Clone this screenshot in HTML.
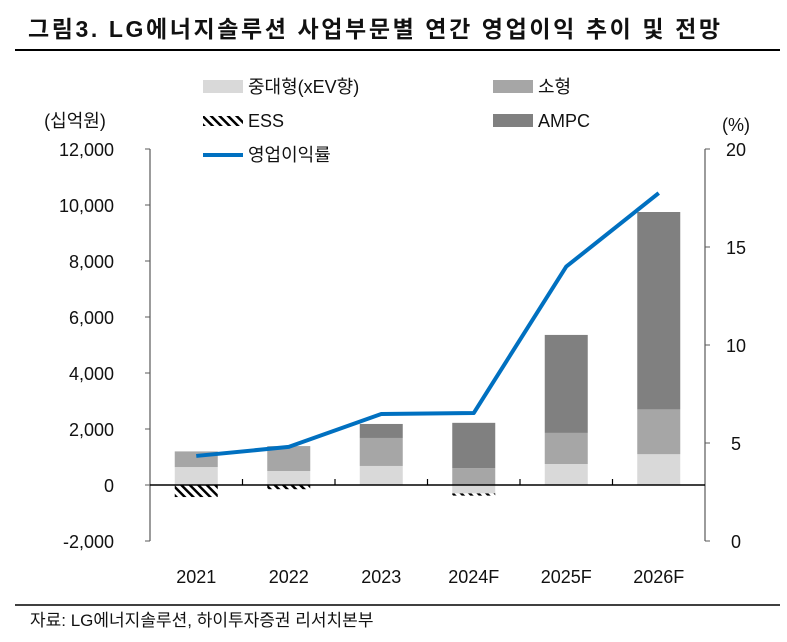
<!DOCTYPE html>
<html><head><meta charset="utf-8">
<style>
html,body{margin:0;padding:0;background:#fff;}
body{width:787px;height:637px;overflow:hidden;font-family:"Liberation Sans","Noto Sans CJK KR",sans-serif;}
svg text{font-family:"Liberation Sans","Noto Sans CJK KR",sans-serif;}
</style></head>
<body>
<svg id="chart" width="787" height="637" xmlns="http://www.w3.org/2000/svg">
<defs>
<pattern id="ess" width="6" height="6" patternUnits="userSpaceOnUse" patternTransform="rotate(-45)">
<rect width="6" height="6" fill="#fff"/><rect width="2.5" height="6" fill="#000"/>
</pattern>
</defs>
<text x="28" y="37" font-size="23" font-weight="bold" fill="#111" textLength="692">그림3. LG에너지솔루션 사업부문별 연간 영업이익 추이 및 전망</text>
<line x1="15" y1="50" x2="780" y2="50" stroke="#000" stroke-width="2"/>
<g id="legend">
<g><rect x="203" y="80" width="40" height="13" fill="#d9d9d9"/><text x="248" y="93" font-size="18" fill="#111">중대형(xEV향)</text></g>
<g><rect x="493" y="80" width="40" height="13" fill="#a6a6a6"/><text x="538" y="93" font-size="18" fill="#111">소형</text></g>
<g><rect x="203" y="116" width="40" height="10" fill="url(#ess)"/><text x="248" y="127" font-size="18" fill="#111">ESS</text></g>
<g><rect x="493" y="114" width="40" height="13" fill="#808080"/><text x="538" y="127" font-size="18" fill="#111">AMPC</text></g>
<g><line x1="203" y1="155" x2="243" y2="155" stroke="#0070c0" stroke-width="4"/><text x="248" y="161" font-size="18" fill="#111">영업이익률</text></g>
</g>
<text x="75" y="127" font-size="18" fill="#111" text-anchor="middle">(십억원)</text>
<text x="736" y="131" font-size="18" fill="#111" text-anchor="middle">(%)</text>
<g id="plot"></g>
<line x1="15" y1="605" x2="780" y2="605" stroke="#000" stroke-width="1.5"/>
<text x="30" y="626" font-size="17" fill="#111">자료: LG에너지솔루션, 하이투자증권 리서치본부</text>
</svg>
<script>
const categories = ["2021","2022","2023","2024F","2025F","2026F"];
const midLarge = [640, 500, 680, -300, 750, 1100];
const small = [560, 890, 1000, 600, 1110, 1600];
const ess = [-430, -150, 0, -80, 0, 0];
const ampc = [0, 0, 500, 1620, 3500, 7050];
const margin = [4.34, 4.8, 6.48, 6.53, 14.0, 17.75];
const leftTicks = [-2000, 0, 2000, 4000, 6000, 8000, 10000, 12000];
const rightTicks = [0, 5, 10, 15, 20];

const NS = "http://www.w3.org/2000/svg";
const plot = document.getElementById("plot");
const X0 = 150, X1 = 705, YT = 149, YB = 541;
const yL = v => YT + (12000 - v) / 14000 * (YB - YT);
const yR = v => YB - v / 20 * (YB - YT);
const band = (X1 - X0) / categories.length;
const xC = i => X0 + band * (i + 0.5);
const BW = 43;
function el(tag, attrs, parent) {
  const e = document.createElementNS(NS, tag);
  for (const k in attrs) e.setAttribute(k, attrs[k]);
  (parent || plot).appendChild(e);
  return e;
}
// axes
let a = el("line", {x1: X0, y1: YT, x2: X0, y2: YB, stroke: "#595959", "stroke-width": 1.2});


a = el("line", {x1: X1, y1: YT, x2: X1, y2: YB, stroke: "#595959", "stroke-width": 1.2});


leftTicks.forEach(t => {
  const y = yL(t);
  el("line", {x1: X0 - 5, y1: y, x2: X0, y2: y, stroke: "#595959"});
  const tx = el("text", {x: 114, y: y + 7, "font-size": 18, fill: "#111", "text-anchor": "end"});
  tx.textContent = t.toLocaleString("en-US");
  
  
});
rightTicks.forEach(t => {
  const y = yR(t);
  el("line", {x1: X1, y1: y, x2: X1 + 5, y2: y, stroke: "#595959"});
  const tx = el("text", {x: 736, y: y + 7, "font-size": 18, fill: "#111", "text-anchor": "middle"});
  tx.textContent = t;
  
  
});
// bars
categories.forEach((c, i) => {
  let pos = 0, neg = 0;
  const segs = [[midLarge[i], "#d9d9d9", "bar-midlarge"], [small[i], "#a6a6a6", "bar-small"], [ess[i], "url(#ess)", "bar-ess"], [ampc[i], "#808080", "bar-ampc"]];
  segs.forEach(([v, fill, name]) => {
    if (!v) return;
    let y0, y1;
    if (v > 0) { y0 = yL(pos + v); y1 = yL(pos); pos += v; }
    else { y0 = yL(neg); y1 = yL(neg + v); neg += v; }
    const r = el("rect", {x: xC(i) - BW / 2, y: y0, width: BW, height: y1 - y0, fill: fill});
    
    
  });
  const lab = el("text", {x: xC(i), y: 583, "font-size": 18, fill: "#111", "text-anchor": "middle"});
  lab.textContent = c;
  
  
  if (i > 0) el("line", {x1: X0 + band * i, y1: yL(0) - 6, x2: X0 + band * i, y2: yL(0), stroke: "#000", "stroke-width": 1.2});
});
const base = el("line", {x1: X0, y1: yL(0), x2: X1, y2: yL(0), stroke: "#000", "stroke-width": 1.5});


// line
const pts = margin.map((m, i) => xC(i) + "," + yR(m)).join(" ");
const pl = el("polyline", {points: pts, fill: "none", stroke: "#0070c0", "stroke-width": 4, "stroke-linejoin": "round"});


</script>
</body></html>
